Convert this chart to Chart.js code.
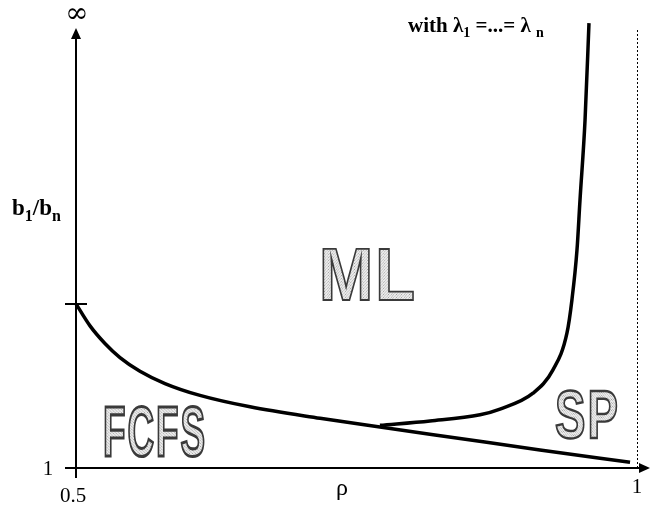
<!DOCTYPE html>
<html lang="en">
<head>
<meta charset="UTF-8">
<title>FCFS / ML / SP regions</title>
<script src="https://cdn.jsdelivr.net/npm/chart.js"></script>
<style>
  body { margin: 0; background: #fff; }
</style>
</head>
<body>
<canvas id="chart" width="650" height="508"></canvas>
<script>
// boundary FCFS / ML
const lowerRho   = [0.5, 0.5125, 0.5258, 0.5392, 0.5570, 0.5793, 0.6105, 0.6551, 0.7175, 0.7709, 0.8422, 0.9135, 0.9938];
const lowerRatio = [4.73, 4.23, 3.83, 3.51, 3.20, 2.92, 2.65, 2.39, 2.13, 1.93, 1.67, 1.41, 1.13];
// boundary ML / SP
const upperRho   = [0.7709, 0.8155, 0.8601, 0.8779, 0.9073, 0.9251, 0.9376, 0.9420, 0.9465, 0.9492, 0.9537, 0.9572];
const upperRatio = [1.97, 2.07, 2.21, 2.34, 2.70, 3.23, 4.07, 4.82, 5.95, 7.09, 8.91, 11.11];

const xTicks = [0.5, 1];
const yTicks = [1];
const regionNames = ['FCFS', 'ML', 'SP'];

function toPoints(xs, ys) {
    return xs.map((x, i) => ({ x: x, y: ys[i] }));
}

// light stippled fill for the hollow region letters
function stipple() {
    const c = document.createElement('canvas');
    c.width = 4; c.height = 4;
    const g = c.getContext('2d');
    g.fillStyle = '#ececec';
    g.fillRect(0, 0, 4, 4);
    g.fillStyle = '#9a9a9a';
    g.fillRect(0, 0, 1, 1);
    g.fillRect(2, 2, 1, 1);
    g.fillStyle = '#c4c4c4';
    g.fillRect(3, 1, 1, 1);
    g.fillRect(1, 3, 1, 1);
    return c;
}

function hollowWord(ctx, text, left, top, w, h) {
    ctx.save();
    ctx.font = 'bold 100px "Liberation Sans"';
    const gap = 2;
    const widths = text.split('').map(ch => ctx.measureText(ch).width);
    const sum = widths.reduce((a, b) => a + b, 0);
    const sx = (w - gap * (text.length - 1)) / sum;
    const sy = h / 72;
    const pat = ctx.createPattern(stipple(), 'repeat');
    let x = left;
    text.split('').forEach((ch, i) => {
        ctx.save();
        ctx.translate(x, top + h);
        ctx.scale(sx, sy);
        ctx.fillStyle = pat;
        ctx.fillText(ch, 0, 0);
        ctx.lineWidth = 1.6 / Math.min(sx, sy);
        ctx.strokeStyle = '#3a3a3a';
        ctx.strokeText(ch, 0, 0);
        ctx.restore();
        x += widths[i] * sx + gap;
    });
    ctx.restore();
}

// text with subscripts: parts = [[text, isSub], ...]
function subText(ctx, parts, x, y, size) {
    parts.forEach(p => {
        const sub = p[1];
        ctx.font = 'bold ' + (sub ? Math.round(size * 0.68) : size) + 'px "Liberation Serif"';
        ctx.fillText(p[0], x, sub ? y + size * 0.25 : y);
        x += ctx.measureText(p[0]).width;
    });
}

const decor = {
    id: 'decor',
    beforeDatasetsDraw(chart) {
        const ctx = chart.ctx;
        const xs = chart.scales.x, ys = chart.scales.y;
        const x0 = xs.getPixelForValue(xTicks[0]);
        const x1 = xs.getPixelForValue(xTicks[1]);
        const y0 = ys.getPixelForValue(yTicks[0]);
        const yTop = chart.chartArea.top;
        const yStart = ys.getPixelForValue(lowerRatio[0]);

        ctx.save();
        ctx.strokeStyle = '#000';
        ctx.fillStyle = '#000';

        // dotted asymptote at rho = 1
        ctx.lineWidth = 1;
        ctx.setLineDash([2, 2]);
        ctx.beginPath();
        ctx.moveTo(x1 + 0.5, yTop + 2);
        ctx.lineTo(x1 + 0.5, y0);
        ctx.stroke();
        ctx.setLineDash([]);

        // axes
        ctx.lineWidth = 2;
        ctx.beginPath();
        ctx.moveTo(x0, y0 + 10);
        ctx.lineTo(x0, yTop + 8);
        ctx.moveTo(x0 - 11, y0);
        ctx.lineTo(chart.width - 8, y0);
        // start tick of the lower curve
        ctx.moveTo(x0 - 11, yStart);
        ctx.lineTo(x0 + 11, yStart);
        ctx.stroke();

        // arrow heads
        ctx.beginPath();
        ctx.moveTo(x0, yTop);
        ctx.lineTo(x0 - 5, yTop + 11);
        ctx.lineTo(x0 + 5, yTop + 11);
        ctx.closePath();
        ctx.fill();
        ctx.beginPath();
        ctx.moveTo(chart.width, y0);
        ctx.lineTo(chart.width - 11, y0 - 5);
        ctx.lineTo(chart.width - 11, y0 + 5);
        ctx.closePath();
        ctx.fill();

        // tick labels
        ctx.font = '21px "Liberation Serif"';
        ctx.textAlign = 'center';
        ctx.textBaseline = 'middle';
        ctx.fillText('0.5', x0 - 3, y0 + 28);
        ctx.fillText('1', x1, y0 + 19);
        ctx.fillText('1', x0 - 28, y0 + 1);
        ctx.font = '24px "Liberation Serif"';
        ctx.fillText('\u03c1', 342, y0 + 21);
        ctx.font = '28px "DejaVu Serif"';
        ctx.fillText('\u221e', x0 + 1, 15);

        // axis title and note
        ctx.textAlign = 'left';
        ctx.textBaseline = 'alphabetic';
        subText(ctx, [['b', false], ['1', true], ['/b', false], ['n', true]], 12, 215, 23);
        subText(ctx, [['with \u03bb', false], ['1', true], [' =...= \u03bb ', false], ['n', true]], 408, 32, 21);

        // region names
        hollowWord(ctx, regionNames[0], 103, 405, 102, 51);
        hollowWord(ctx, regionNames[1], 319, 247, 96, 53);
        hollowWord(ctx, regionNames[2], 555, 388, 63, 50);
        ctx.restore();
    }
};

new Chart(document.getElementById('chart'), {
    type: 'scatter',
    data: {
        datasets: [
            {
                label: 'FCFS / ML',
                data: toPoints(lowerRho, lowerRatio),
                showLine: true,
                borderColor: '#000',
                borderWidth: 3.5,
                pointRadius: 0,
                cubicInterpolationMode: 'monotone'
            },
            {
                label: 'ML / SP',
                data: toPoints(upperRho, upperRatio),
                showLine: true,
                borderColor: '#000',
                borderWidth: 3.5,
                pointRadius: 0,
                cubicInterpolationMode: 'monotone'
            }
        ]
    },
    options: {
        responsive: false,
        animation: false,
        clip: false,
        layout: { padding: { left: 76, right: 13, top: 28, bottom: 40 } },
        plugins: { legend: { display: false }, tooltip: { enabled: false } },
        scales: {
            x: { type: 'linear', min: 0.5, max: 1, display: false },
            y: { type: 'linear', min: 1, max: 11, display: false }
        }
    },
    plugins: [decor]
});
</script>
</body>
</html>
